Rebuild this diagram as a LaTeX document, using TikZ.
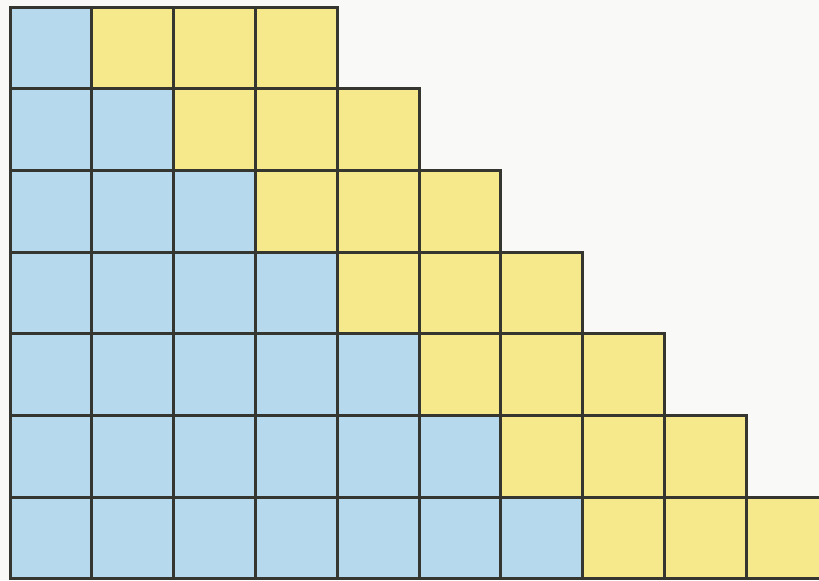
\documentclass[tikz,border=0pt]{standalone}
\definecolor{paper}{HTML}{F9F9F7}
\definecolor{cellblue}{HTML}{B6D9EE}
\definecolor{cellyellow}{HTML}{F6E98C}
\definecolor{gridline}{HTML}{35362F}
\tikzset{
  cell/.style={draw=gridline, line width=1.5pt, minimum width=40.9pt, minimum height=40.8pt, inner sep=0pt, outer sep=0pt, anchor=north west},
  bluecell/.style={cell, fill=cellblue},
  yellowcell/.style={cell, fill=cellyellow}
}
\begin{document}
\begin{tikzpicture}[x=0.5pt,y=-0.5pt]
\useasboundingbox (0,0) rectangle (819,580);
\fill[paper] (0,0) rectangle (819,580);
\begin{scope}
\clip (0,0) rectangle (819,580);
\foreach \r in {1,...,7}{
  \pgfmathtruncatemacro{\n}{\r+3}
  \foreach \c in {1,...,\n}{
    \ifnum\c>\r
      \node[yellowcell] (c-\r-\c) at ({10+(\c-1)*81.8},{7+(\r-1)*81.7}) {};
    \else
      \node[bluecell] (c-\r-\c) at ({10+(\c-1)*81.8},{7+(\r-1)*81.7}) {};
    \fi
  }
}
\end{scope}
\end{tikzpicture}
\end{document}
